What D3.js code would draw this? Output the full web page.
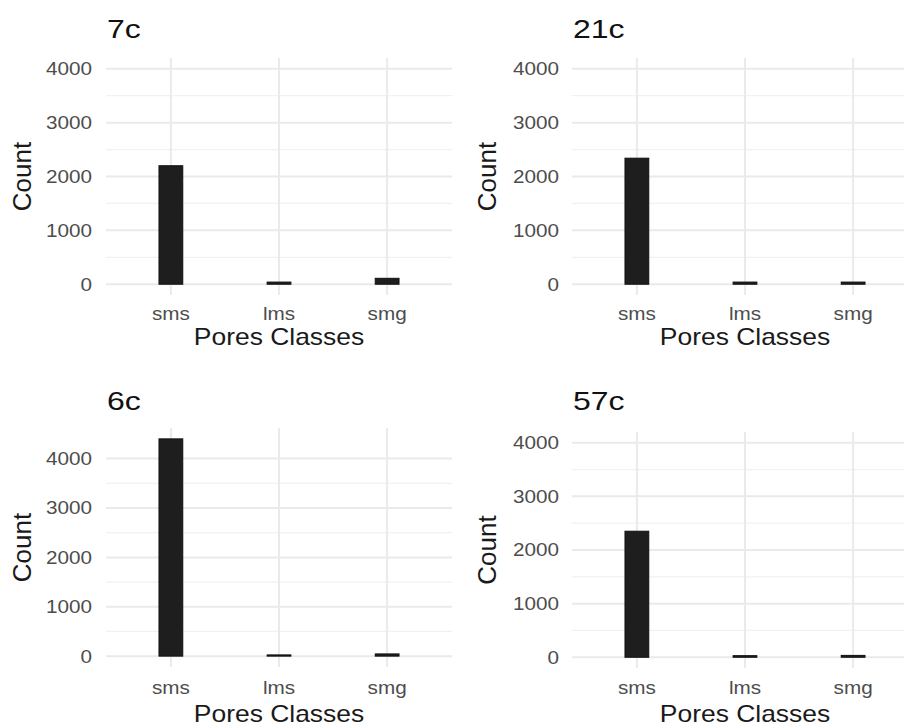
<!DOCTYPE html>
<html>
<head>
<meta charset="utf-8">
<script src="https://cdn.jsdelivr.net/npm/d3@7"></script>
<style>
  html, body { margin: 0; padding: 0; background: #ffffff; overflow: hidden; }
  svg { display: block; }
  text { font-family: "Liberation Sans", Arial, sans-serif; }
</style>
</head>
<body>
<svg id="chart" width="904" height="728"></svg>
<script>
// ---- data ----
const categories = ["sms", "lms", "smg"];
const panelTitles = ["7c", "21c", "6c", "57c"];
const values7c  = [2200, 40, 110];
const values21c = [2340, 40, 40];
const values6c  = [4400, 25, 45];
const values57c = [2350, 30, 35];
const yTicks = [0, 1000, 2000, 3000, 4000];
const yMinorTicks = [500, 1500, 2500, 3500];
const yLimits = [4000, 4000, 4400, 4000];
const xTitle = "Pores Classes";
const yTitle = "Count";

const seriesList = [values7c, values21c, values6c, values57c];

// ---- layout ----
const svg = d3.select("#chart");
const panels = [
  { x0: 106, x1: 452, y0: 58,  y1: 295, tickX: 92,  countX: 22,  titleY: 38,  xlabY: 320, xTitleY: 345 },
  { x0: 572, x1: 918, y0: 58,  y1: 295, tickX: 559, countX: 487, titleY: 38,  xlabY: 320, xTitleY: 345 },
  { x0: 106, x1: 452, y0: 428, y1: 667, tickX: 92,  countX: 22,  titleY: 410, xlabY: 694, xTitleY: 722 },
  { x0: 572, x1: 918, y0: 432, y1: 668, tickX: 559, countX: 487, titleY: 410, xlabY: 694, xTitleY: 722 }
];
const SX = 1.15;   // horizontal text stretch seen in the reference
const STX = 1.28;  // for panel titles

panels.forEach((p, i) => {
  const vals = seriesList[i];
  const data = categories.map((c, j) => ({ cat: c, v: vals[j] }));
  const lim = yLimits[i];
  const pad = lim * 0.05;

  const x = d3.scalePoint().domain(categories).range([p.x0, p.x1]).padding(0.6);
  const step = x.step();
  const y = d3.scaleLinear().domain([-pad, lim + pad]).range([p.y1, p.y0]);

  const g = svg.append("g");

  // minor grid
  g.selectAll(".minor").data(yMinorTicks).join("line")
    .attr("x1", p.x0).attr("x2", p.x1)
    .attr("y1", d => y(d)).attr("y2", d => y(d))
    .attr("stroke", "#f1f1f1").attr("stroke-width", 1.2);
  // major grid
  g.selectAll(".major").data(yTicks).join("line")
    .attr("x1", p.x0).attr("x2", p.x1)
    .attr("y1", d => y(d)).attr("y2", d => y(d))
    .attr("stroke", "#eaeaea").attr("stroke-width", 2);
  g.selectAll(".vmajor").data(categories).join("line")
    .attr("x1", d => x(d)).attr("x2", d => x(d))
    .attr("y1", p.y0).attr("y2", p.y1)
    .attr("stroke", "#eaeaea").attr("stroke-width", 2);

  // bars
  const bw = step * 0.22;
  g.selectAll(".bar").data(data).join("rect")
    .attr("x", d => x(d.cat) - bw / 2)
    .attr("width", bw)
    .attr("y", d => y(d.v))
    .attr("height", d => y(0) - y(d.v))
    .attr("fill", "#1e1e1e")
    .attr("stroke", "#111")
    .attr("stroke-width", 1);

  // y tick labels
  g.selectAll(".ytl").data(yTicks).join("text")
    .attr("transform", d => `translate(${p.tickX},${y(d)}) scale(${SX},1)`)
    .attr("text-anchor", "end").attr("dominant-baseline", "central")
    .attr("font-size", 18).attr("fill", "#4d4d4d")
    .text(d => d3.format("d")(d));

  // x tick labels
  g.selectAll(".xtl").data(categories).join("text")
    .attr("transform", d => `translate(${x(d)},${p.xlabY}) scale(${SX},1)`)
    .attr("text-anchor", "middle")
    .attr("font-size", 18).attr("fill", "#4d4d4d")
    .text(d => d);

  // axis titles
  g.append("text")
    .attr("transform", `translate(${(p.x0 + p.x1) / 2},${p.xTitleY}) scale(${SX},1)`)
    .attr("text-anchor", "middle").attr("font-size", 23).attr("fill", "#1a1a1a")
    .text(xTitle);
  g.append("text")
    .attr("transform", `translate(${p.countX},${(p.y0 + p.y1) / 2}) rotate(-90)`)
    .attr("text-anchor", "middle").attr("dominant-baseline", "central")
    .attr("font-size", 26).attr("fill", "#1a1a1a")
    .text(yTitle);

  // panel title
  g.append("text")
    .attr("transform", `translate(${p.x0 + 1},${p.titleY}) scale(${STX},1)`)
    .attr("font-size", 25).attr("fill", "#111")
    .text(panelTitles[i]);
});
</script>
</body>
</html>
